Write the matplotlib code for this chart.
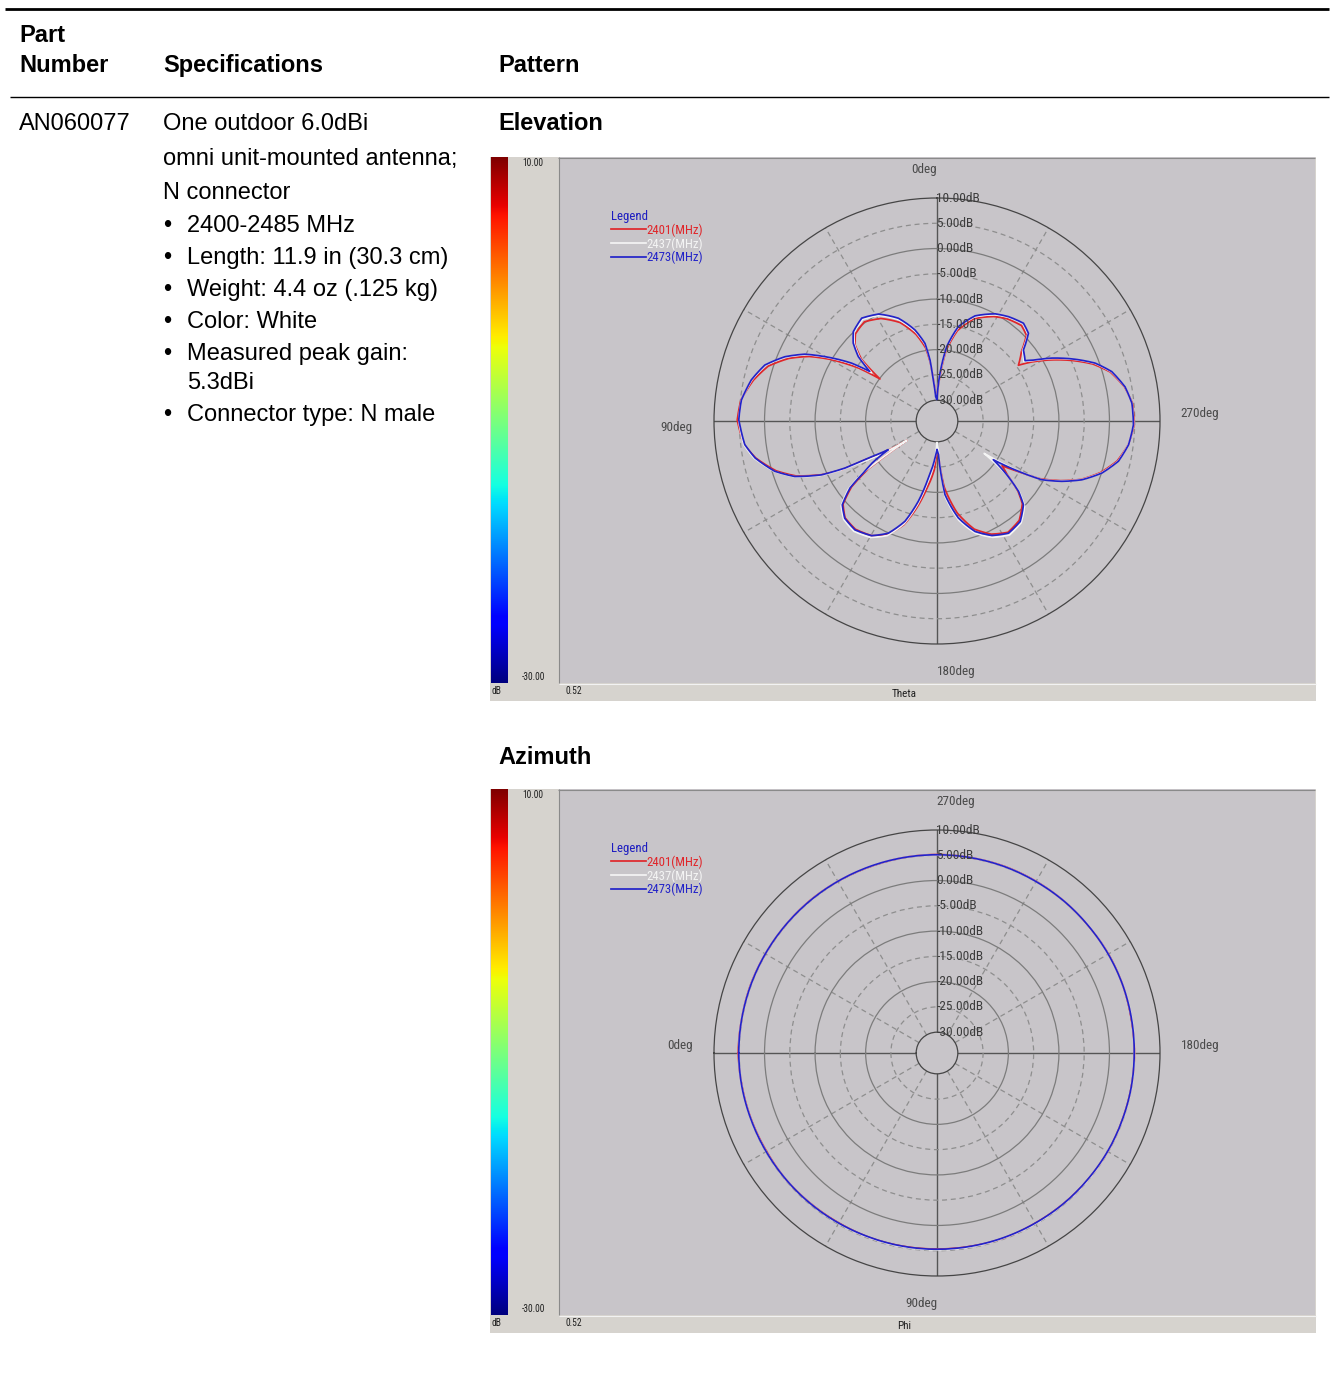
import os
import numpy as np
import matplotlib
matplotlib.use("Agg")
import matplotlib.pyplot as plt
from matplotlib import font_manager
from matplotlib.font_manager import FontProperties
from matplotlib.textpath import TextPath
from matplotlib.patches import Rectangle

# ---------------- data ----------------
header_cols = ["Part\nNumber", "Specifications", "Pattern"]
part_number = "AN060077"
spec_lines = ["One outdoor 6.0dBi", "omni unit-mounted antenna;", "N connector"]
bullet_items = ["2400-2485 MHz", "Length: 11.9 in (30.3 cm)", "Weight: 4.4 oz (.125 kg)",
                "Color: White", "Measured peak gain:\n5.3dBi", "Connector type: N male"]
panel_titles = ["Elevation", "Azimuth"]
freq_labels = ["2401(MHz)", "2437(MHz)", "2473(MHz)"]
ring_values = [10, 5, 0, -5, -10, -15, -20, -25, -30]
ring_labels = ["10.00dB", "5.00dB", "0.00dB", "-5.00dB", "-10.00dB", "-15.00dB",
               "-20.00dB", "-25.00dB", "-30.00dB"]
scale_max_label = "10.00"
scale_min_label = "-30.00"
scale_unit = "dB"
scale_step = "0.52"
elev_dir_labels = ["0deg", "90deg", "180deg", "270deg"]
azim_dir_labels = ["0deg", "90deg", "180deg", "270deg"]

# Elevation cut (Theta, deg) - gain in dB
elev_theta = [0, 3.1, 5.2, 6.5, 8.8, 13.6, 20.6, 28.7, 36.2, 43.1,
              47.1, 50.7, 53.6, 55.9, 60.1, 63.2, 67.1, 72.0, 77.5, 83.9,
              89.7, 91.1, 97.0, 101.5, 107.2, 111.3, 115.0, 117.1, 118.3, 120.5,
              122.8, 124.9, 127.6, 131.5, 136.5, 143.0, 150.3, 156.5, 162.3, 166.9,
              171.3, 176.9, 180.0, 182.5, 186.2, 192.4, 199.0, 205.6, 212.5, 219.6,
              225.9, 229.2, 232.4, 235.5, 238.3, 240.7, 244.2, 247.9, 252.5, 257.5,
              262.9, 268.9, 275.2, 280.3, 285.8, 290.1, 294.1, 298.7, 301.9, 304.4,
              309.4, 313.8, 318.5, 325.6, 331.5, 340.1, 347.3, 352.6, 356.4, 360]
elev_2401 = [-29.5, -28.5, -25.5, -22.5, -19.5, -16.5, -13.3, -11.0, -9.8, -10.5,
             -12.0, -14.8, -20.1, -15.5, -9.6, -5.8, -2.3, 1.0, 3.1, 4.9,
             5.4, 5.2, 4.3, 2.5, -0.8, -4.2, -9.0, -13.0, -18.0, -21.5,
             -27.0, -17.5, -12.8, -9.3, -7.7, -7.3, -8.0, -9.6, -12.6, -16.5,
             -20.5, -24.5, -28.5, -27.4, -21.0, -15.5, -11.5, -9.3, -8.0, -8.6,
             -10.6, -13.0, -16.5, -18.5, -15.0, -10.8, -7.0, -3.4, -0.2, 2.4,
             4.0, 4.9, 4.7, 3.6, 1.5, -1.3, -4.8, -9.0, -12.0, -14.6,
             -12.5, -9.6, -8.9, -9.6, -10.6, -12.6, -15.8, -20.0, -25.5, -29.5]
elev_2437 = [-30.0, -29.0, -25.8, -22.0, -18.8, -15.9, -12.7, -10.3, -9.2, -10.1,
             -11.8, -14.3, -18.0, -14.0, -8.8, -5.0, -1.6, 1.6, 3.4, 4.8,
             5.1, 5.0, 4.4, 2.8, -0.4, -3.8, -8.6, -12.8, -16.5, -20.5,
             -27.0, -16.3, -12.0, -8.8, -7.3, -6.8, -7.6, -9.4, -12.8, -17.2,
             -22.0, -26.5, -30.0, -28.5, -19.0, -14.0, -10.6, -8.6, -7.4, -8.0,
             -10.0, -12.6, -16.8, -22.8, -15.5, -10.5, -6.8, -3.3, 0.0, 2.6,
             4.0, 4.8, 4.6, 3.7, 1.7, -0.9, -4.3, -8.4, -11.5, -13.3,
             -12.2, -9.2, -8.4, -9.2, -10.2, -12.2, -15.2, -19.5, -25.0, -30.0]
elev_2473 = [-30.0, -29.3, -26.0, -22.0, -18.6, -15.6, -12.4, -10.0, -8.9, -9.9,
             -11.5, -14.0, -17.6, -13.7, -8.6, -4.8, -1.45, 1.7, 3.5, 4.8,
             5.1, 4.9, 4.2, 2.6, -0.5, -3.9, -8.9, -13.7, -18.7, -22.9,
             -19.0, -16.7, -12.4, -9.1, -7.6, -7.15, -8.0, -9.9, -13.3, -17.8,
             -22.7, -26.8, -28.5, -27.5, -19.45, -14.5, -11.0, -9.0, -7.8, -8.3,
             -10.3, -12.8, -16.7, -20.6, -15.2, -10.4, -6.7, -3.2, 0.1, 2.65,
             4.06, 4.75, 4.6, 3.7, 1.8, -0.8, -4.2, -8.2, -11.3, -13.0,
             -12.0, -9.05, -8.3, -9.1, -10.0, -12.0, -15.0, -19.3, -24.65, -30.0]

# Azimuth cut (Phi, deg) - gain in dB
azim_phi = [0, 10, 20, 30, 40, 50, 60, 70, 80, 90, 100, 110, 120, 130, 140, 150, 160, 170,
            180, 190, 200, 210, 220, 230, 240, 250, 260, 270, 280, 290, 300, 310, 320, 330,
            340, 350, 360]
azim_2401 = [5.2, 5.0, 4.9, 4.8, 4.85, 4.75, 4.7, 4.75, 4.7, 4.65, 4.7, 4.8, 4.75, 4.8, 4.85,
             4.9, 4.85, 4.9, 4.95, 4.9, 5.0, 5.05, 5.0, 5.05, 5.1, 5.15, 5.1, 5.15, 5.1,
             5.05, 5.1, 5.15, 5.1, 5.1, 5.15, 5.1, 5.2]
azim_2437 = [5.1, 5.05, 4.95, 4.9, 4.85, 4.8, 4.8, 4.8, 4.8, 4.8, 4.8, 4.8, 4.85, 4.85, 4.9,
             4.9, 4.9, 4.95, 4.95, 5.0, 5.0, 5.0, 5.05, 5.05, 5.05, 5.1, 5.1, 5.1, 5.1,
             5.1, 5.1, 5.1, 5.1, 5.1, 5.1, 5.1, 5.1]
azim_2473 = [5.1, 5.05, 4.95, 4.9, 4.85, 4.8, 4.75, 4.7, 4.7, 4.7, 4.7, 4.72, 4.75, 4.8, 4.8,
             4.85, 4.85, 4.9, 4.9, 4.95, 5.0, 5.0, 5.0, 5.05, 5.05, 5.1, 5.1, 5.1, 5.1,
             5.1, 5.1, 5.1, 5.1, 5.1, 5.1, 5.1, 5.1]

series_colors = ["#e0262a", "#f4f4f4", "#2323c8"]

# ---------------- fonts ----------------
names = {f.name for f in font_manager.fontManager.ttflist}
MAIN = "Liberation Sans" if "Liberation Sans" in names else "DejaVu Sans"


def pick_narrow():
    entries = font_manager.fontManager.ttflist

    def ok(f):
        return f.style == "normal" and f.weight in (400, "normal", "regular", "book", "Regular")

    prefs = ["Liberation Sans Narrow", "Arial Narrow", "Roboto Condensed",
             "DejaVu Sans Condensed", "Open Sans Condensed", "Noto Sans Condensed"]
    for p in prefs:
        for f in entries:
            if f.name == p and ok(f):
                return f.fname
    for f in entries:
        if ok(f) and str(f.stretch) in ("condensed", "semi-condensed"):
            return f.fname
    for f in entries:
        b = os.path.basename(f.fname)
        if ok(f) and ("Condensed" in b or "Narrow" in b) and "Bold" not in b:
            return f.fname
    return None


_nf = pick_narrow()


def nfp(size):
    if _nf:
        return FontProperties(fname=_nf, size=size)
    return FontProperties(family="DejaVu Sans", size=size)


def fit(s, target_px):
    w = TextPath((0, 0), s, size=10, prop=nfp(10)).get_extents().width
    return 10 * target_px / (w * 100 / 72)


S_RING = fit("10.00dB", 42)
S_DIR = fit("270deg", 37)
S_LEG = fit("2401(MHz)", 55)
S_SMALL = fit("10.00", 20)
S_AXN = fit("Theta", 24)

W, H = 1334, 1376
fig = plt.figure(figsize=(W / 100, H / 100), dpi=100)
fig.patch.set_facecolor("white")


def rect(x0, y0, x1, y1):
    return [x0 / W, 1 - y1 / H, (x1 - x0) / W, (y1 - y0) / H]


# pixel-space canvas
cv = fig.add_axes([0, 0, 1, 1])
cv.set_xlim(0, W)
cv.set_ylim(H, 0)
cv.axis("off")

# table rules
cv.hlines(9, 5, 1329, color="black", lw=2.0)
cv.hlines(97, 10, 1329, color="black", lw=1.0)

FS = 17
cv.text(19, 42, header_cols[0].split("\n")[0], fontsize=FS, fontweight="bold", family=MAIN, va="baseline")
cv.text(19, 72, header_cols[0].split("\n")[1], fontsize=FS, fontweight="bold", family=MAIN, va="baseline")
cv.text(163, 72, header_cols[1], fontsize=FS, fontweight="bold", family=MAIN, va="baseline")
cv.text(498, 72, header_cols[2], fontsize=FS, fontweight="bold", family=MAIN, va="baseline")
cv.text(19, 130, part_number, fontsize=FS, family=MAIN, va="baseline")
for s, yb in zip(spec_lines, [130, 165, 199]):
    cv.text(163, yb, s, fontsize=FS, family=MAIN, va="baseline")
bullet_base = [232, 264, 296, 328, 360, 421]
for s, yb in zip(bullet_items, bullet_base):
    cv.text(163, yb, "\u2022", fontsize=FS, family=MAIN, va="baseline")
    parts = s.split("\n")
    cv.text(187, yb, parts[0], fontsize=FS, family=MAIN, va="baseline")
    if len(parts) > 1:
        cv.text(187, yb + 29, parts[1], fontsize=FS, family=MAIN, va="baseline")
cv.text(498, 130, panel_titles[0], fontsize=FS, fontweight="bold", family=MAIN, va="baseline")
cv.text(498, 764, panel_titles[1], fontsize=FS, fontweight="bold", family=MAIN, va="baseline")

R = 223            # outer radius, px
CX = 937
R_ORIGIN = -34.12  # puts the -30 dB ring at ~21 px from the centre
PANEL_BG = "#d6d3ce"
PLOT_BG = "#c8c5c9"
TXT = "#4a4a4a"


def panel(top, cy, zero_loc, top_angle, angles, s1, s2, s3, dir_labels, dir_pos, axis_name):
    # backgrounds
    cv.add_patch(Rectangle((490, top), 826, 544, facecolor=PANEL_BG, edgecolor="none", zorder=0))
    cv.add_patch(Rectangle((559, top), 756, 526, facecolor=PLOT_BG, edgecolor="none", zorder=0.5))
    cv.vlines(558.5, top, top + 526, color="#8a8a8a", lw=0.8, zorder=1)
    cv.hlines(top + 0.5, 558, 1315, color="#8a8a8a", lw=0.8, zorder=1)
    cv.hlines(top + 527, 559, 1316, color="#f2f2f2", lw=0.8, zorder=1)
    cv.text(533, top + 6, scale_max_label, fontproperties=nfp(S_SMALL), ha="center", va="center", color="#202020")
    cv.text(533, top + 520, scale_min_label, fontproperties=nfp(S_SMALL), ha="center", va="center", color="#202020")
    cv.text(491, top + 534, scale_unit, fontproperties=nfp(S_SMALL), ha="left", va="center", color="#202020")
    cv.text(565, top + 534, scale_step, fontproperties=nfp(S_SMALL), ha="left", va="center", color="#202020")
    cv.text(904, top + 537, axis_name, fontproperties=nfp(S_AXN), ha="center", va="center", color="#202020")
    for lab, (px, py) in zip(dir_labels, dir_pos):
        cv.text(px, py, lab, fontproperties=nfp(S_DIR), ha="center", va="center", color=TXT)

    # colour scale
    cax = fig.add_axes(rect(491, top, 508, top + 526))
    grad = np.linspace(ring_values[0], ring_values[-1], 256).reshape(-1, 1)
    cax.imshow(grad, cmap="jet", aspect="auto", vmin=ring_values[-1], vmax=ring_values[0])
    cax.axis("off")

    # polar plot
    ax = fig.add_axes(rect(CX - R, cy - R, CX + R, cy + R), projection="polar")
    ax.set_theta_zero_location(zero_loc)
    ax.set_theta_direction(1)
    ax.set_ylim(ring_values[-1], ring_values[0])
    ax.set_rorigin(R_ORIGIN)
    ax.patch.set_visible(False)
    inner_rings = ring_values[1:-1]
    ax.set_yticks(inner_rings)
    ax.set_yticklabels([])
    spokes = np.arange(0, 360, 30)
    ax.set_xticks(np.deg2rad(spokes))
    ax.set_xticklabels([])
    ax.tick_params(length=0)
    ax.grid(True)
    for r, t in zip(inner_rings, ax.yaxis.get_major_ticks()):
        gl = t.gridline
        if r % 10 == 0:
            gl.set(color="#7c7c7c", lw=0.9, linestyle="-")
        else:
            gl.set(color="#8e8e8e", lw=0.9, linestyle=(0, (4, 3)))
    for a, t in zip(spokes, ax.xaxis.get_major_ticks()):
        gl = t.gridline
        if a % 90 == 0:
            gl.set(color="#555555", lw=1.0, linestyle="-")
        else:
            gl.set(color="#8e8e8e", lw=0.9, linestyle=(0, (4, 3)))
    for sp in ax.spines.values():
        sp.set_color("#454545")
        sp.set_linewidth(0.9)

    th = np.deg2rad(angles)
    lines = []
    for vals, col in zip([s1, s2, s3], series_colors):
        ln, = ax.plot(th, vals, color=col, lw=1.25, zorder=3)
        ln.get_path()._interpolation_steps = 12   # draw segments as polar curves
        lines.append(ln)

    ta = np.deg2rad(top_angle)
    for r, lab in zip(ring_values, ring_labels):
        ax.annotate(lab, xy=(ta, r), xytext=(-0.5, 0), textcoords="offset points",
                    ha="left", va="center", fontproperties=nfp(S_RING),
                    color="#3c3c3c", annotation_clip=False, zorder=4)

    fpx = S_LEG * 100 / 72
    leg = ax.legend(lines, freq_labels, loc="upper left",
                    bbox_to_anchor=(611 / W, 1 - (top + 53) / H), bbox_transform=fig.transFigure,
                    frameon=False, title="Legend", alignment="left",
                    prop=nfp(S_LEG), title_fontproperties=nfp(S_LEG),
                    handlelength=35 / fpx, handletextpad=0.0, labelspacing=0.03,
                    borderpad=0, borderaxespad=0)
    leg.get_title().set_color("#1c1cc0")
    for txt, col in zip(leg.get_texts(), series_colors):
        txt.set_color(col)
    return ax


panel(157, 421, "N", 0, elev_theta, elev_2401, elev_2437, elev_2473,
      elev_dir_labels, [(924, 169), (676, 428), (956, 672), (1200, 414)], "Theta")
panel(789, 1053, "W", 270, azim_phi, azim_2401, azim_2437, azim_2473,
      azim_dir_labels, [(680, 1046), (921, 1304), (1200, 1046), (956, 801)], "Phi")

fig.savefig("out.png", dpi=100, facecolor="white")
